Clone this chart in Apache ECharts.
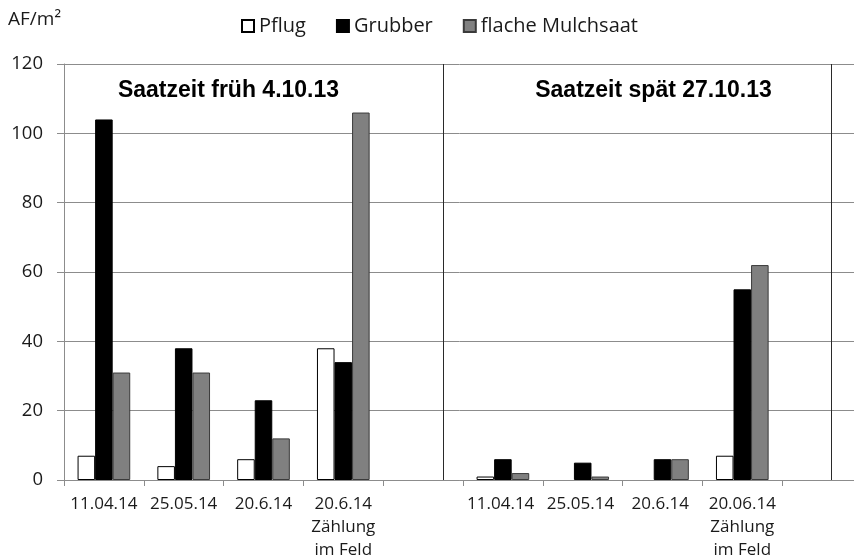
<!DOCTYPE html>
<html>
<head>
<meta charset="utf-8">
<script src="https://cdn.jsdelivr.net/npm/echarts@6/dist/echarts.min.js"></script>
<style>
  html, body { margin: 0; padding: 0; background: #fff; }
  #chart { width: 854px; height: 560px; }
</style>
</head>
<body>
<div id="chart"></div>
<script>
// Count dates, two sowing dates; each block ends with an empty spacer slot
const categories = [
  '11.04.14', '25.05.14', '20.6.14', '20.6.14\nZählung\nim Feld', ' ',
  '11.04.14 ', '25.05.14 ', '20.6.14 ', '20.06.14\nZählung\nim Feld', '  '
];
const pflug   = [7, 4, 6, 38, null, 1, 0, 0, 7, null];
const grubber = [104, 38, 23, 34, null, 6, 5, 6, 55, null];
const mulch   = [31, 31, 12, 106, null, 2, 1, 6, 62, null];
const yTicks = { min: 0, max: 120, interval: 20 };
// divider positions between the two blocks, in category units
const dividers = [4.75, 9.62];

const textFont = 'Open Sans';
const chart = echarts.init(document.getElementById('chart'), null, { renderer: 'canvas' });

// zero counts get no outline, so nothing is drawn for them
const asBars = arr => arr.map(v => (v === 0 ? { value: 0, itemStyle: { borderWidth: 0 } } : v));

chart.setOption({
  animation: false,
  backgroundColor: '#ffffff',
  grid: {
    left: 64, width: 798, top: 64, height: 416,
    containLabel: false, outerBoundsMode: 'none'
  },
  title: [
    { text: 'AF/m²', left: 3, top: 5,
      textStyle: { fontFamily: textFont, fontSize: 19, fontWeight: 'normal', color: '#1a1a1a' } },
    { text: 'Saatzeit früh 4.10.13', left: 223.5, top: 74, textAlign: 'center',
      textStyle: { fontFamily: 'Liberation Sans', fontSize: 23, fontWeight: 'bold', color: '#000' } },
    { text: 'Saatzeit spät 27.10.13', left: 648.5, top: 74, textAlign: 'center',
      textStyle: { fontFamily: 'Liberation Sans', fontSize: 23, fontWeight: 'bold', color: '#000' } }
  ],
  legend: {
    top: 11, left: 236,
    icon: 'rect', itemWidth: 12, itemHeight: 12, itemGap: 30,
    textStyle: { fontFamily: textFont, fontSize: 20, color: '#1a1a1a' },
    data: ['Pflug', 'Grubber', 'flache Mulchsaat']
  },
  xAxis: [
    {
      type: 'category',
      data: categories,
      boundaryGap: true,
      axisLine: { show: true, lineStyle: { color: '#8c8c8c', width: 1 } },
      axisTick: { show: true, interval: 0, length: 6, lineStyle: { color: '#8c8c8c' } },
      axisLabel: {
        interval: 0, margin: 13, fontFamily: textFont, fontSize: 17,
        lineHeight: 23, color: '#1a1a1a', align: 'center'
      },
      splitLine: { show: false }
    },
    {
      type: 'value', min: 0, max: 10, show: false, position: 'bottom'
    }
  ],
  yAxis: {
    type: 'value',
    min: yTicks.min, max: yTicks.max, interval: yTicks.interval,
    axisLine: { show: true, lineStyle: { color: '#8c8c8c', width: 1 } },
    axisTick: { show: true, length: 7, lineStyle: { color: '#8c8c8c' } },
    axisLabel: { margin: 21, fontFamily: textFont, fontSize: 18.5, color: '#1a1a1a' },
    splitLine: { show: true, lineStyle: { color: '#8c8c8c', width: 1 } }
  },
  series: [
    {
      name: 'Pflug', type: 'bar', data: asBars(pflug),
      barGap: '0%', barCategoryGap: '34%',
      itemStyle: { color: '#ffffff', borderColor: '#000000', borderWidth: 1 }
    },
    {
      name: 'Grubber', type: 'bar', data: asBars(grubber),
      itemStyle: { color: '#000000', borderColor: '#000000', borderWidth: 1 }
    },
    {
      name: 'flache Mulchsaat', type: 'bar', data: asBars(mulch),
      itemStyle: { color: '#808080', borderColor: '#3a3a3a', borderWidth: 1 }
    },
    {
      name: 'Trenner', type: 'line', xAxisIndex: 1, data: [],
      markLine: {
        silent: true, symbol: 'none', label: { show: false },
        lineStyle: { color: '#2a2a2a', width: 1, type: 'solid' },
        data: dividers.map(v => ({ xAxis: v }))
      }
    }
  ]
});
</script>
</body>
</html>
